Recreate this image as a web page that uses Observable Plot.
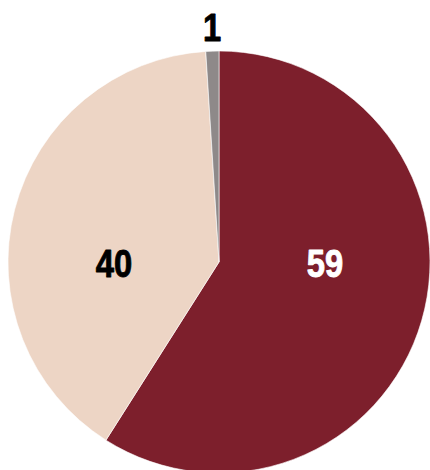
<!DOCTYPE html>
<html><head><meta charset="utf-8">
<script src="https://cdn.jsdelivr.net/npm/d3@7"></script>
<script src="https://cdn.jsdelivr.net/npm/@observablehq/plot@0.6"></script>
<style>body{margin:0;background:#fff}</style>
</head><body><div id="chart"></div>
<script>
const categories = ["A", "B", "C"];
const values = [59, 40, 1];
const colors = ["#7D1F2C", "#EDD5C5", "#8E8989"];
const labelColors = ["#fff", "#000", "#000"];

const data = categories.map((c, i) => ({cat: c, value: values[i]}));
const pie = d3.pie().sort(null).value(d => d.value)(data);

// label anchors in unit-circle coordinates
const labels = pie.map((p, i) => {
  const mid = (p.startAngle + p.endAngle) / 2;
  const frac = (p.endAngle - p.startAngle) / (2 * Math.PI);
  if (frac < 0.05) {
    return {x: Math.sin(mid) * 1.11, y: Math.cos(mid) * 1.11, text: String(values[i]), fill: labelColors[i]};
  }
  return {x: Math.sign(Math.sin(mid)) * 0.5, y: -0.01, text: String(values[i]), fill: labelColors[i]};
});

const cx = 219, cy = 262, R = 211;

const arcsMark = (index, scales) => {
  const x0 = scales.x(0), y0 = scales.y(0);
  const r = scales.x(1) - x0;
  const arc = d3.arc().innerRadius(0).outerRadius(r);
  const g = d3.create("svg:g").attr("transform", `translate(${x0},${y0})`);
  g.selectAll("path").data(pie).join("path")
    .attr("d", arc)
    .attr("fill", (d, i) => scales.color(d.data.cat))
    .attr("stroke", "#fff")
    .attr("stroke-width", 0.6);
  return g.node();
};

const chart = Plot.plot({
  width: 430,
  height: 470,
  margin: 0,
  style: {fontFamily: "'Liberation Sans', Arial, sans-serif", background: "#fff"},
  x: {domain: [-1, 1], range: [cx - R, cx + R], axis: null},
  y: {domain: [-1, 1], range: [cy + R, cy - R], axis: null},
  color: {domain: categories, range: colors},
  marks: [
    arcsMark,
    Plot.text(labels, {x: "x", y: "y", text: "text", fill: "fill", stroke: "fill", strokeWidth: 0.9, fontSize: 38, fontWeight: "bold"})
  ]
});
document.getElementById("chart").append(chart);
// condense label glyphs
d3.select(chart).selectAll("text").each(function () {
  const w = this.getComputedTextLength();
  this.setAttribute("textLength", (w * 0.86).toFixed(1));
  this.setAttribute("lengthAdjust", "spacingAndGlyphs");
});
</script></body></html>
